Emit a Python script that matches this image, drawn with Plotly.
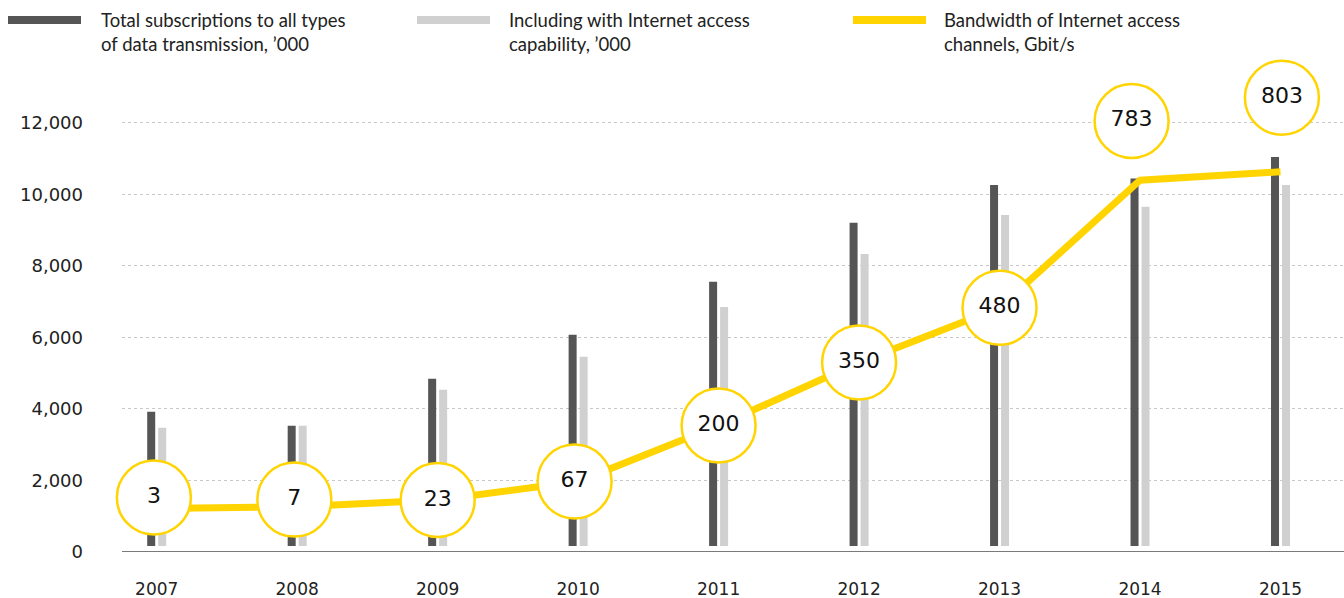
import plotly.graph_objects as go

years = [2007, 2008, 2009, 2010, 2011, 2012, 2013, 2014, 2015]
total_subs = [3920, 3530, 4840, 6070, 7550, 9200, 10260, 10440, 11040]
internet_subs = [3470, 3530, 4535, 5455, 6850, 8330, 9420, 9650, 10260]
bandwidth = [3, 7, 23, 67, 200, 350, 480, 783, 803]
bandwidth_labels = ["3", "7", "23", "67", "200", "350", "480", "783", "803"]

legend_texts = [
    "Total subscriptions to all types<br>of data transmission, ’000",
    "Including with Internet access<br>capability, ’000",
    "Bandwidth of Internet access<br>channels, Gbit/s",
]

# style constants
DARK = "#555555"
LIGHT = "#d0d0d0"
YELLOW = "#FFD400"
BAR_W = 0.057
BAR_BASE = 170  # bars start slightly above the axis line
# circles nudged away from the line (in Gbit/s units / years)
LABEL_LIFT = {2007: 26, 2008: 17, 2014: 141, 2015: 176}
LABEL_NUDGE_X = {2007: -0.02, 2008: -0.02, 2010: -0.025, 2014: -0.06, 2015: 0.01}

label_y = [v + LABEL_LIFT.get(yr, 0) for yr, v in zip(years, bandwidth)]
label_x = [yr + LABEL_NUDGE_X.get(yr, 0) for yr in years]

W, H = 1344, 598
PLOT_TOP, PLOT_BOTTOM, PLOT_LEFT = 50, 552.3, 122
PH = PLOT_BOTTOM - PLOT_TOP

fig = go.Figure()
fig.add_trace(go.Bar(
    x=years, y=[v - BAR_BASE for v in total_subs], base=BAR_BASE,
    width=BAR_W, offset=-0.0676, marker_color=DARK, marker_line_width=0,
    showlegend=False, hoverinfo="skip"))
fig.add_trace(go.Bar(
    x=years, y=[v - BAR_BASE for v in internet_subs], base=BAR_BASE,
    width=BAR_W, offset=0.0107, marker_color=LIGHT, marker_line_width=0,
    showlegend=False, hoverinfo="skip"))
fig.add_trace(go.Scatter(
    x=years, y=bandwidth, yaxis="y2", mode="lines",
    line=dict(color=YELLOW, width=7), showlegend=False, hoverinfo="skip"))
fig.add_trace(go.Scatter(
    x=label_x, y=label_y, yaxis="y2", mode="markers+text",
    text=bandwidth_labels, textposition="middle center",
    textfont=dict(family="DejaVu Sans", size=22, color="#111111"),
    marker=dict(size=74, color="white", line=dict(color=YELLOW, width=2.5)),
    cliponaxis=False, showlegend=False, hoverinfo="skip"))

fig.update_layout(
    width=W, height=H,
    margin=dict(l=PLOT_LEFT, r=0, t=PLOT_TOP, b=H - PLOT_BOTTOM),
    paper_bgcolor="white", plot_bgcolor="white",
    barmode="overlay",
    xaxis=dict(
        range=[2006.753, 2015.452], tickmode="array", tickvals=years,
        ticktext=[str(y) for y in years], showgrid=False, zeroline=False,
        showline=False, ticks="", ticklabelstandoff=25,
        tickfont=dict(family="DejaVu Sans", size=17, color="#222222")),
    yaxis=dict(
        range=[0, PH / 35.8 * 1000],
        tickvals=[0, 2000, 4000, 6000, 8000, 10000, 12000],
        ticktext=["0", "2,000", "4,000", "6,000", "8,000", "10,000", "12,000"],
        showgrid=True, gridcolor="#c8c8c8", griddash="dot", gridwidth=1,
        zeroline=False, showline=False, ticks="", ticklabelstandoff=38,
        tickfont=dict(family="DejaVu Sans", size=18, color="#222222")),
    yaxis2=dict(range=[-100.5, -100.5 + PH / 0.421], overlaying="y", visible=False),
)

# axis baseline
fig.add_shape(type="line", xref="paper", yref="y", x0=0, x1=1, y0=0, y1=0,
              line=dict(color="#7a7a7a", width=2), layer="above")

# custom legend
legend_items = [
    (8, 81, DARK, 99, legend_texts[0]),
    (417, 490, LIGHT, 507, legend_texts[1]),
    (853, 926, YELLOW, 942, legend_texts[2]),
]


def px_x(px):
    return (px - PLOT_LEFT) / (W - PLOT_LEFT)


def px_y(py):
    return (PLOT_BOTTOM - py) / PH


for x0, x1, col, tx, txt in legend_items:
    fig.add_shape(type="rect", xref="paper", yref="paper",
                  x0=px_x(x0), x1=px_x(x1), y0=px_y(24), y1=px_y(16),
                  line_width=0, fillcolor=col)
    fig.add_annotation(xref="paper", yref="paper",
                       x=px_x(tx), y=px_y(7),
                       xanchor="left", yanchor="top", align="left",
                       text=txt, showarrow=False,
                       font=dict(family="Lato", size=18.5, color="#222222"))

fig.write_html("out.html", config={"displayModeBar": False},
               post_script="document.body.style.margin='0';")
